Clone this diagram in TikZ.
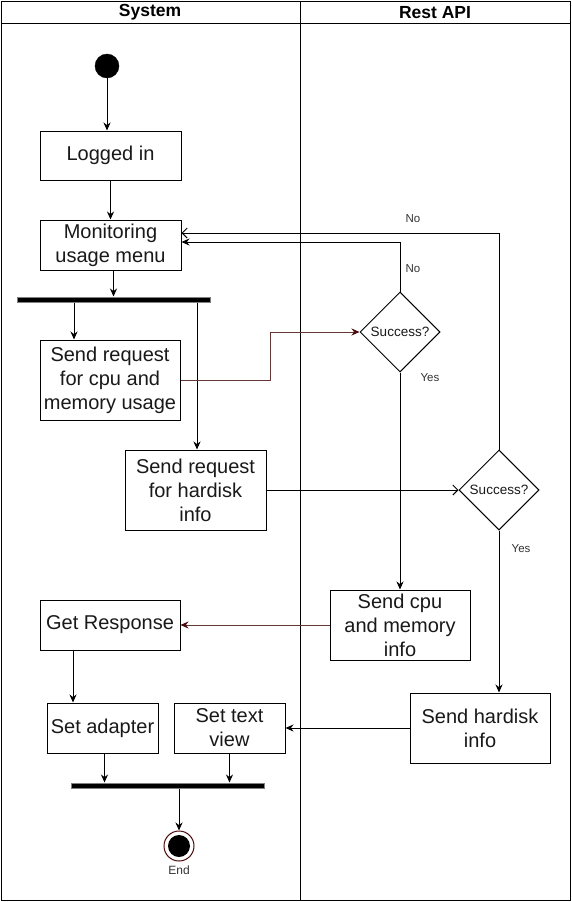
\documentclass[tikz,border=0pt]{standalone}
\usepackage{fontspec}
\setmainfont{Liberation Sans}
\usetikzlibrary{shapes.geometric,arrows.meta,calc}
\definecolor{darkred}{RGB}{77,10,10}
\definecolor{redline}{RGB}{100,55,55}
\definecolor{txt}{RGB}{25,25,25}
\definecolor{lbl}{RGB}{51,51,51}
\tikzset{
  box/.style={draw=black, line width=1pt, fill=white, align=center, text=txt,
    font=\fontsize{20}{24}\selectfont, inner sep=0pt},
  dec/.style={draw=black, line width=1pt, diamond, aspect=1, minimum width=80pt, minimum height=80pt,
    inner sep=0pt, text=txt, font=\fontsize{13.5}{16}\selectfont},
  bar/.style={draw=gray, fill=black, line width=1pt, minimum height=5pt, inner sep=0pt},
  arr/.style={draw=black, line width=1pt, -{Stealth[length=8pt,width=7pt]}},
  oarr/.style={draw=black, line width=1pt, -{Straight Barb[length=5pt,width=10pt]}},
  rarr/.style={draw=redline, line width=1pt, -{Stealth[length=8pt,width=7pt,color=darkred]}},
  lab/.style={text=lbl, font=\fontsize{11.5}{13}\selectfont, inner sep=0pt},
  lane/.style={draw=black, line width=1pt},
  head/.style={font=\bfseries\fontsize{17.5}{20}\selectfont, text=black, inner sep=0pt}
}
\begin{document}
\begin{tikzpicture}[x=1pt,y=-1pt]
\useasboundingbox (0,0) rectangle (572,902);
\fill[white] (0,0) rectangle (572,902);
% lanes
\draw[lane] (1,1) rectangle (570,900);
\draw[lane] (1,23) -- (570,23);
\draw[lane] (300,1) -- (300,900);
\node[head] (hsys) at (150,12.5) {System};
\node[head] (hapi) at (435,12.5) {Rest API};
% nodes
\node[circle, fill=black, draw=black, minimum size=24pt, inner sep=0pt] (start) at (107,66) {};
\node[box, minimum width=141pt, minimum height=49pt] (logged) at (110.5,155.5) {\raisebox{-1.5pt}{Logged in}};
\node[box, minimum width=141pt, minimum height=50pt] (menu) at (110.5,245) {Monitoring\\usage menu};
\node[bar, minimum width=193pt] (fork) at (113.5,299.5) {};
\node[box, minimum width=140pt, minimum height=80pt] (cpu) at (110,380) {Send request\\for cpu and\\memory usage};
\node[box, minimum width=141pt, minimum height=80pt] (hdd) at (195.5,490) {Send request\\for hardisk\\info};
\node[dec] (d1) at (400,332) {Success?};
\node[dec] (d2) at (499,490) {Success?};
\node[box, minimum width=140pt, minimum height=70pt] (cpuinfo) at (400,625) {Send cpu\\and memory\\info};
\node[box, minimum width=140pt, minimum height=50pt] (resp) at (110,625) {\raisebox{-1.5pt}{Get Response}};
\node[box, minimum width=140pt, minimum height=70pt] (hddinfo) at (480,728) {Send hardisk\\info};
\node[box, minimum width=111pt, minimum height=50pt] (adapter) at (102.5,728) {\raisebox{-1.5pt}{Set adapter}};
\node[box, minimum width=111pt, minimum height=50pt] (textview) at (229.5,728) {Set text\\view};
\node[bar, minimum width=193pt] (join) at (167.5,785.5) {};
\node[circle, draw=darkred, line width=1pt, fill=white, minimum size=30pt, inner sep=0pt] (end) at (179,846) {};
\node[circle, fill=black, minimum size=22pt, inner sep=0pt] (endin) at (end.center) {};
\node[lab, font=\fontsize{12}{14}\selectfont] (endlab) at (179,870) {End};
% connectors
\draw[arr] (start) -- (start |- logged.north);
\draw[arr] (logged) -- (menu);
\draw[arr] (fork.north |- menu.south) -- (fork.north);
\draw[arr] ([xshift=-36]cpu.north |- fork.south) -- ([xshift=-36]cpu.north);
\draw[arr] ([xshift=1.5]hdd.north |- fork.south) -- ([xshift=1.5]hdd.north);
\draw[rarr] (cpu.east) -- ++(90,0) |- (d1.west);
\draw[oarr] (hdd.east) -- (d2.west);
\draw[arr] (d1.north) |- ([yshift=3]menu.east);
\draw[oarr] (d2.north) |- ([yshift=12]menu.east);
\draw[arr] (d1.south) -- (cpuinfo.north);
\draw[arr] (d2.south) -- (d2.south |- hddinfo.north);
\draw[rarr] (cpuinfo.west) -- (resp.east);
\draw[arr] ([xshift=-37]resp.south) -- ([xshift=-37]resp.south |- adapter.north);
\draw[arr] (hddinfo.west) -- (textview.east);
\draw[arr] ([xshift=2]adapter.south) -- ([xshift=2]adapter.south |- join.north);
\draw[arr] (textview.south) -- (textview.south |- join.north);
\draw[arr] (join.south -| end) -- (end.north);
% labels
\node[lab] (no1) at (413,269) {No};
\node[lab] (no2) at (413,219) {No};
\node[lab] (yes1) at (430,378) {Yes};
\node[lab] (yes2) at (521,549) {Yes};
\end{tikzpicture}
\end{document}
